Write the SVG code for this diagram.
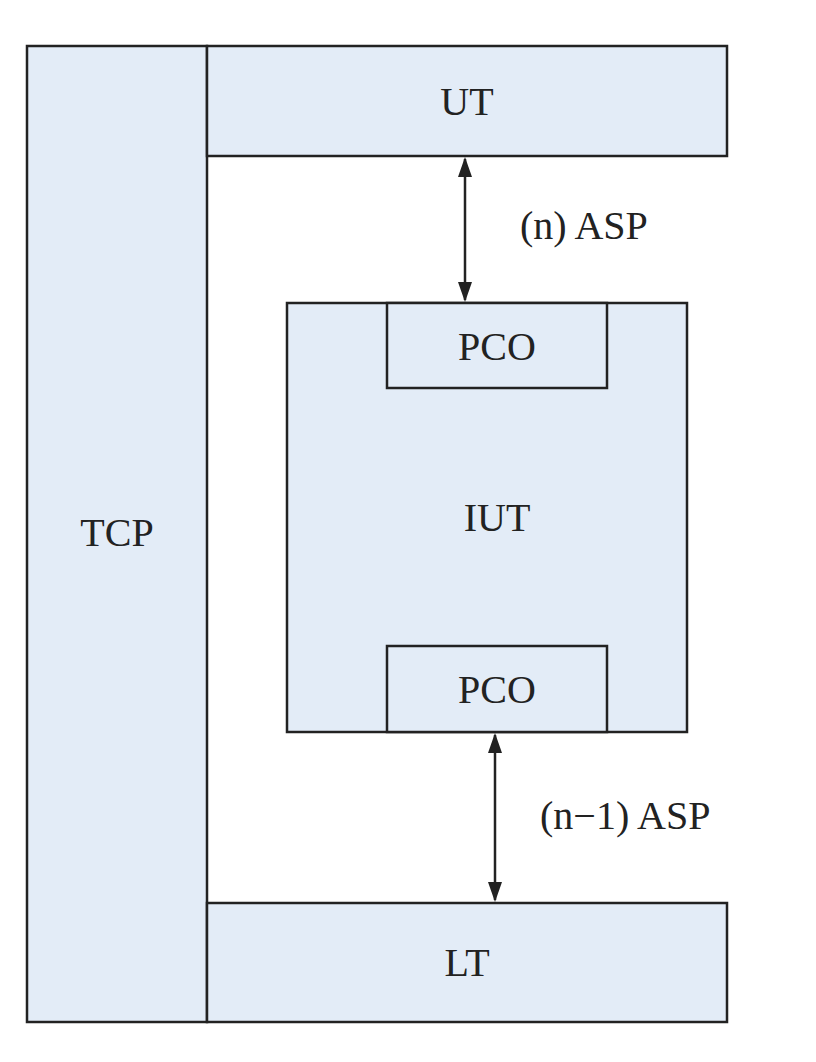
<svg xmlns="http://www.w3.org/2000/svg" width="816" height="1062" viewBox="0 0 816 1062">
<style>
.b{fill:#e3ecf7;stroke:#222;stroke-width:2.5}
text{font-family:"Liberation Serif",serif;font-size:40px;fill:#222;text-anchor:middle;dominant-baseline:central}
.l{text-anchor:start}
.c{stroke:#222;stroke-width:2.5;fill:none;marker-start:url(#a);marker-end:url(#a)}
</style>
<defs><marker id="a" viewBox="0 0 10 10" refX="9" refY="5" markerWidth="20" markerHeight="14" markerUnits="userSpaceOnUse" orient="auto-start-reverse" preserveAspectRatio="none"><path d="M0,0L10,5L0,10z" fill="#222"/></marker></defs>
<rect width="816" height="1062" fill="#fff"/>
<g id="tcp"><rect class="b" x="27" y="46" width="180" height="976"/><text x="117" y="532">TCP</text></g>
<g id="ut"><rect class="b" x="207" y="46" width="520" height="110"/><text x="467" y="101">UT</text></g>
<g id="lt"><rect class="b" x="207" y="903" width="520" height="119"/><text x="467" y="962">LT</text></g>
<g id="iut"><rect class="b" x="287" y="303" width="400" height="429"/><text x="497" y="517">IUT</text></g>
<g id="pco1"><rect class="b" x="387" y="303" width="220" height="85"/><text x="497" y="346">PCO</text></g>
<g id="pco2"><rect class="b" x="387" y="646" width="220" height="86"/><text x="497" y="689">PCO</text></g>
<g id="connectors">
<line class="c" x1="465" y1="159" x2="465" y2="300"/>
<line class="c" x1="495" y1="735" x2="495" y2="900"/>
</g>
<text class="l" x="520" y="225">(n) ASP</text>
<text class="l" x="540" y="815">(n−1) ASP</text>
</svg>
